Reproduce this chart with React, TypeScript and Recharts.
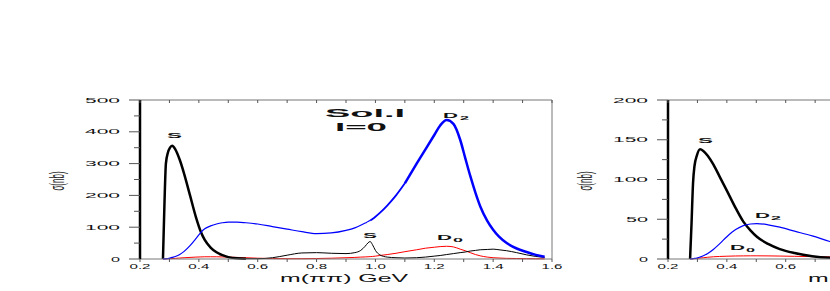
import React from 'react';
import { LineChart, Line, XAxis, YAxis } from 'recharts';

const FONT = '"Liberation Sans", Arial, sans-serif';

// left panel: Sol.I, I=0
const leftMass = [
  0.278, 0.283, 0.288, 0.295, 0.302, 0.309, 0.32, 0.335, 0.35, 0.37, 0.39, 0.407,
  0.42, 0.44, 0.46, 0.48, 0.5, 0.53, 0.56, 0.6, 0.65, 0.7, 0.75, 0.8,
  0.85, 0.9, 0.93, 0.95, 0.965, 0.975, 0.982, 0.99, 1.0, 1.015, 1.04, 1.07,
  1.1, 1.14, 1.17, 1.2, 1.22, 1.242, 1.265, 1.288, 1.305, 1.322, 1.34, 1.356,
  1.38, 1.4, 1.42, 1.446, 1.48, 1.514, 1.545, 1.575,
];
const leftS = [
  0, 170, 300, 335, 350, 356, 345, 312, 268, 200, 132, 85,
  60, 36, 21, 12, 6, 2, 1, 1, 4, 12, 19, 20,
  18, 17, 20, 27, 40, 51, 55, 45, 27, 13, 6, 4,
  3, 4, 6, 9, 11, 14, 17, 20, 22, 25, 27, 29,
  30, 31, 29, 26, 20, 13, 8, 5,
];
const leftD2 = [
  0, 0.3, 0.6, 1.5, 3, 5, 8, 14, 24, 42, 64, 84,
  95, 104, 110, 114, 116, 116, 114, 110, 102, 94, 86, 80,
  82, 90, 98, 106, 113, 118, 121, 126, 133, 145, 168, 200,
  238, 300, 345, 390, 420, 437, 425, 375, 318, 262, 208, 166,
  120, 92, 70, 50, 33, 22, 13, 7,
];
const leftD0 = [
  0, 0.2, 0.4, 0.7, 1, 1.5, 2, 3, 4, 5, 6, 6.5,
  7, 7, 7, 6.5, 6, 5, 4, 2.5, 1.5, 1, 1, 1.5,
  2.5, 4, 5, 6, 6.5, 7, 7.5, 8, 9, 11, 14, 18,
  23, 29, 34, 37, 39, 40, 38, 31, 26, 20, 14, 10,
  6, 4, 3, 2, 1.5, 1, 0.7, 0.5,
];

// right panel
const rightMass = [
  0.275, 0.28, 0.285, 0.29, 0.298, 0.309, 0.32, 0.335, 0.354, 0.375, 0.4, 0.43,
  0.456, 0.48, 0.502, 0.54, 0.58, 0.63, 0.69, 0.75, 0.8, 0.85, 0.9,
];
const rightS = [
  0, 45, 95, 117, 130, 138, 136, 130, 119, 104, 86, 64,
  47, 36, 28, 19, 12.5, 7.5, 3.5, 1.5, 1, 0.5, 0.3,
];
const rightD2 = [
  0, 0.2, 0.4, 0.7, 1.2, 2.5, 4, 7, 12, 19, 28, 37,
  42, 44, 44.5, 43, 40, 35, 29, 22, 17, 13, 10,
];
const rightD0 = [
  0, 0.1, 0.2, 0.4, 0.7, 1.2, 1.6, 2.2, 2.8, 3.2, 3.5, 3.8,
  3.9, 4, 4, 3.9, 3.7, 3.4, 3, 2.6, 2.3, 2, 1.8,
];

const xTicks = [0.2, 0.3, 0.4, 0.5, 0.6, 0.7, 0.8, 0.9, 1.0, 1.1, 1.2, 1.3, 1.4, 1.5, 1.6];
const leftYTicks = [0, 50, 100, 150, 200, 250, 300, 350, 400, 450, 500];
const rightYTicks = [0, 25, 50, 75, 100, 125, 150, 175, 200];

type Note = { x: number; y: number; w: number; size: number; text: string; bold?: boolean };

const leftNotes: Note[] = [
  { x: 167, y: 138, w: 15, size: 7, text: 'S', bold: true },
  { x: 325, y: 117, w: 80, size: 10, text: 'Sol.I', bold: true },
  { x: 335, y: 131, w: 52, size: 10, text: 'I=0', bold: true },
  { x: 443, y: 118, w: 15, size: 7, text: 'D', bold: true },
  { x: 460, y: 120, w: 9, size: 5.5, text: '2', bold: true },
  { x: 363, y: 238, w: 14, size: 7, text: 'S', bold: true },
  { x: 437, y: 240, w: 15, size: 7, text: 'D', bold: true },
  { x: 453, y: 242, w: 10, size: 5.5, text: '0', bold: true },
];
const rightNotes: Note[] = [
  { x: 170, y: 143, w: 15, size: 7, text: 'S', bold: true },
  { x: 227, y: 218, w: 15, size: 7, text: 'D', bold: true },
  { x: 243, y: 220, w: 10, size: 5.5, text: '2', bold: true },
  { x: 202, y: 250, w: 15, size: 7, text: 'D', bold: true },
  { x: 218, y: 252, w: 9, size: 5.5, text: '0', bold: true },
];

const stretch = (x: number, y: number, w: number, size: number, text: string, bold = false, key?: any) => (
  <text
    key={key}
    x={x}
    y={y}
    fontSize={size}
    fontFamily={FONT}
    fontWeight={bold ? 700 : 400}
    fill="#111"
    textLength={w}
    lengthAdjust="spacingAndGlyphs"
  >
    {text}
  </text>
);

const makeBottomTick = (maxX: number) => (props: any) => {
  const { x, y, payload } = props;
  const v = payload.value as number;
  const major = Math.round(v * 10) % 2 === 0;
  return (
    <g>
      <line x1={x} x2={x} y1={y} y2={y + 3} stroke="#555" strokeWidth={1} />
      {major && x + 10.5 < maxX && stretch(x - 10.5, y + 10, 21, 7, v.toFixed(1))}
    </g>
  );
};

const TopTick = (props: any) => {
  const { x, y } = props;
  return <line x1={x} x2={x} y1={y} y2={y + 3} stroke="#555" strokeWidth={1} />;
};

const RightTick = (props: any) => {
  const { x, y } = props;
  return <line x1={x - 4} x2={x} y1={y} y2={y} stroke="#555" strokeWidth={1} />;
};

const makeLeftTick = (step: number) => (props: any) => {
  const { x, y, payload } = props;
  const v = payload.value as number;
  const major = v % step === 0;
  const label = String(v);
  const w = 13 * label.length - 4;
  return (
    <g>
      <line x1={x - (major ? 11 : 6)} x2={x} y1={y} y2={y} stroke="#555" strokeWidth={1} />
      {major && stretch(x - 20 - w, y + 2.5, w, 7, label)}
    </g>
  );
};

type PanelProps = {
  left: number;
  visible: number;
  mass: number[];
  s: number[];
  d2: number[];
  d0: number[];
  yMax: number;
  yTicks: number[];
  majorStep: number;
  sSplit: number;
  d2Split: [number, number];
  notes: Note[];
};

function Panel({ left, visible, mass, s, d2, d0, yMax, yTicks, majorStep, sSplit, d2Split, notes }: PanelProps) {
  // line width changes along some curves, so split them into pieces sharing their end points
  const rows = mass.map((m, i) => ({
    m,
    sThick: m <= sSplit ? s[i] : null,
    sThin: m >= sSplit ? s[i] : null,
    d2Thin: m <= d2Split[0] ? d2[i] : null,
    d2Mid: m >= d2Split[0] && m <= d2Split[1] ? d2[i] : null,
    d2Thick: m >= d2Split[1] ? d2[i] : null,
    d0: d0[i],
  }));
  const LeftTick = makeLeftTick(majorStep);
  const BottomTick = makeBottomTick(visible);
  return (
    <div style={{ position: 'absolute', left, top: 0, width: 600, height: 291 }}>
      <LineChart width={600} height={291} data={rows} margin={{ top: 90, right: 38, bottom: 2, left: 0 }}>
        <XAxis
          xAxisId="bottom"
          dataKey="m"
          type="number"
          domain={[0.2, 1.6]}
          ticks={xTicks}
          interval={0}
          height={30}
          tickSize={0}
          tickMargin={0}
          axisLine={{ stroke: '#777', strokeWidth: 1 }}
          tickLine={false}
          tick={BottomTick}
        />
        <XAxis
          xAxisId="top"
          orientation="top"
          dataKey="m"
          type="number"
          domain={[0.2, 1.6]}
          ticks={xTicks}
          interval={0}
          height={10}
          tickSize={0}
          tickMargin={0}
          axisLine={{ stroke: '#777', strokeWidth: 1 }}
          tickLine={false}
          tick={TopTick}
        />
        <YAxis
          yAxisId="left"
          type="number"
          domain={[0, yMax]}
          ticks={yTicks}
          interval={0}
          width={140}
          tickSize={0}
          tickMargin={0}
          axisLine={{ stroke: '#000', strokeWidth: 2.5 }}
          tickLine={false}
          tick={LeftTick}
        />
        <YAxis
          yAxisId="right"
          orientation="right"
          type="number"
          domain={[0, yMax]}
          ticks={yTicks}
          interval={0}
          width={10}
          tickSize={0}
          tickMargin={0}
          axisLine={{ stroke: '#777', strokeWidth: 1 }}
          tickLine={false}
          tick={RightTick}
        />
        <Line xAxisId="bottom" yAxisId="left" type="monotone" dataKey="d0" stroke="#ff0000" strokeWidth={1} dot={false} isAnimationActive={false} />
        <Line xAxisId="bottom" yAxisId="left" type="monotone" dataKey="sThin" stroke="#000" strokeWidth={1} dot={false} isAnimationActive={false} />
        <Line xAxisId="bottom" yAxisId="left" type="monotone" dataKey="sThick" stroke="#000" strokeWidth={2.5} dot={false} isAnimationActive={false} />
        <Line xAxisId="bottom" yAxisId="left" type="monotone" dataKey="d2Thin" stroke="#0000ff" strokeWidth={1.2} dot={false} isAnimationActive={false} />
        <Line xAxisId="bottom" yAxisId="left" type="monotone" dataKey="d2Mid" stroke="#0000ff" strokeWidth={1.8} dot={false} isAnimationActive={false} />
        <Line xAxisId="bottom" yAxisId="left" type="monotone" dataKey="d2Thick" stroke="#0000ff" strokeWidth={2.5} dot={false} isAnimationActive={false} />
      </LineChart>
      <svg width={600} height={291} style={{ position: 'absolute', left: 0, top: 0, pointerEvents: 'none' }}>
        {notes.map((n, i) => stretch(n.x, n.y, n.w, n.size, n.text, n.bold, i))}
        {stretch(280, 282, 128, 10, 'm(\u03c0\u03c0) GeV')}
        <g transform="translate(56,181) scale(2.5,1) rotate(-90)">
          <text x={0} y={3} fontSize={8} fontFamily={FONT} fill="#222" textAnchor="middle">
            σ(nb)
          </text>
        </g>
      </svg>
    </div>
  );
}

export default function App() {
  return (
    <div style={{ position: 'absolute', left: 0, top: 0, width: 830, height: 291, overflow: 'hidden', background: '#fff' }}>
      <Panel
        left={0}
        visible={830}
        mass={leftMass}
        s={leftS}
        d2={leftD2}
        d0={leftD0}
        yMax={500}
        yTicks={leftYTicks}
        majorStep={100}
        sSplit={0.56}
        d2Split={[0.982, 1.1]}
        notes={leftNotes}
      />
      <Panel
        left={528}
        visible={302}
        mass={rightMass}
        s={rightS}
        d2={rightD2}
        d0={rightD0}
        yMax={200}
        yTicks={rightYTicks}
        majorStep={50}
        sSplit={2}
        d2Split={[2, 2]}
        notes={rightNotes}
      />
    </div>
  );
}
